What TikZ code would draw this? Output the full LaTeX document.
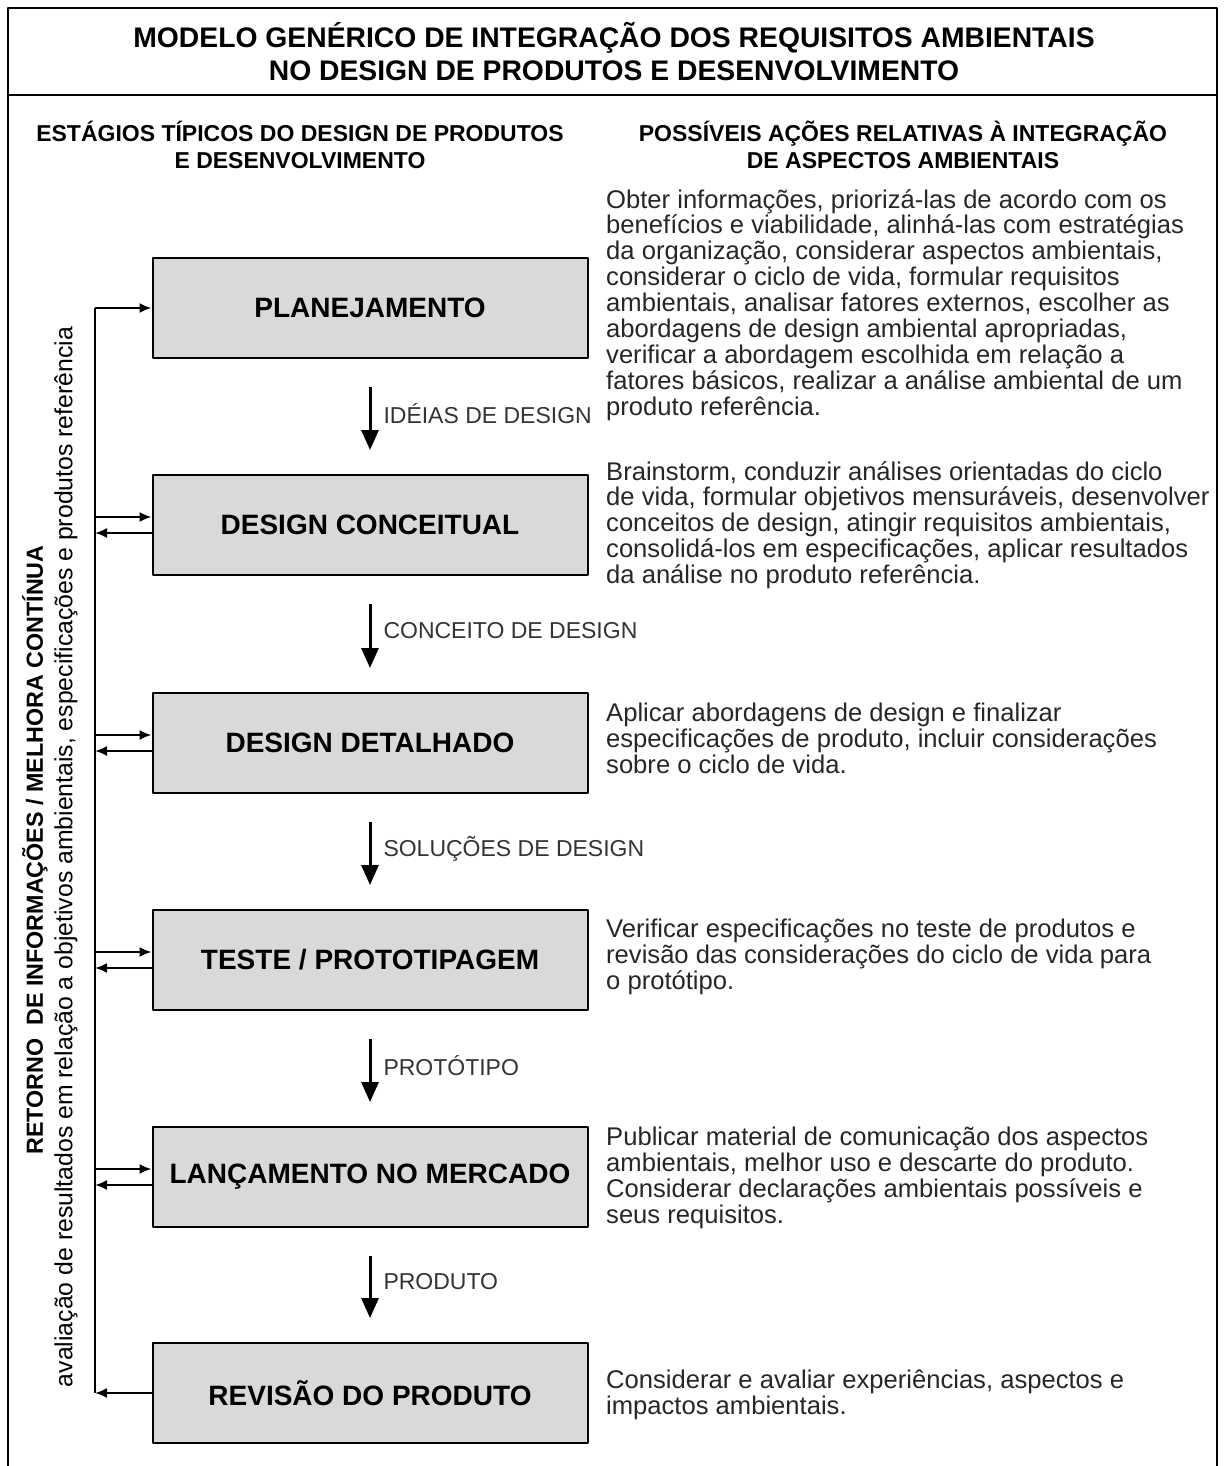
\documentclass[tikz,border=0pt]{standalone}
\usepackage{fontspec}
\setmainfont{Liberation Sans}
\usetikzlibrary{arrows.meta}

\begin{document}
\begin{tikzpicture}[x=1pt,y=-1pt,line join=round,
    stage/.style={draw,line width=2pt,fill=black!15,minimum width=435pt,minimum height=100pt,
      inner sep=0pt,font=\fontsize{28}{30}\selectfont\bfseries},
    desc/.style={anchor=north west,align=left,inner sep=0pt,text=black!85,
      font=\fontsize{25.6}{25.9}\selectfont},
    flow/.style={line width=3pt,-{Triangle[length=20pt,width=17pt]}},
    flowlabel/.style={right,inner sep=0pt,xshift=12pt,text=black!80,font=\fontsize{23}{24}\selectfont},
    back/.style={line width=2pt,-{Latex[length=12pt,width=10pt]}},
    head/.style={align=center,font=\bfseries\fontsize{23}{27}\selectfont}]
  \useasboundingbox (0,0) rectangle (1223,1466);
  % frame and title
  \draw[line width=2.5pt] (8,1470) |- (1217,8) -- (1217,1470);
  \draw[line width=2.5pt] (8,95) -- (1217,95);
  \node[align=center,font=\bfseries\fontsize{28.3}{33}\selectfont] (title) at (614,52)
    {MODELO GENÉRICO DE INTEGRAÇÃO DOS REQUISITOS AMBIENTAIS\\NO DESIGN DE PRODUTOS E DESENVOLVIMENTO};
  \node[head] (lhead) at (300,145) {ESTÁGIOS TÍPICOS DO DESIGN DE PRODUTOS\\E DESENVOLVIMENTO};
  \node[head] (rhead) at (903,145) {POSSÍVEIS AÇÕES RELATIVAS À INTEGRAÇÃO\\DE ASPECTOS AMBIENTAIS};

  % stages
  \foreach \n/\y/\t in {plan/308/PLANEJAMENTO, conc/525/DESIGN CONCEITUAL,
      deta/743/DESIGN DETALHADO, test/960/{TESTE / PROTOTIPAGEM},
      lanc/1177/LANÇAMENTO NO MERCADO, revi/1393/REVISÃO DO PRODUTO}
    \node[stage] (\n) at (370,\y) {\t};

  \foreach \a/\b/\t in {plan/conc/IDÉIAS DE DESIGN, conc/deta/CONCEITO DE DESIGN,
      deta/test/SOLUÇÕES DE DESIGN, test/lanc/PROTÓTIPO, lanc/revi/PRODUTO}
    \draw[flow] ([yshift=-28pt]\a.south) -- ([yshift=24pt]\b.north) node[flowlabel,pos=0.42] {\t};

  % feedback loop
  \coordinate (ftop) at (95,308);
  \coordinate (fbot) at (95,1393);
  \draw[line width=2pt] (fbot) -- (ftop);
  \draw[back] (ftop) -- (plan.west);
  \foreach \n in {conc,deta,test,lanc}{
    \draw[back] ([yshift=8pt]\n.west -| ftop) -- ([yshift=8pt]\n.west);
    \draw[back] ([yshift=-8pt]\n.west) -- ([yshift=-8pt]\n.west -| ftop);
  }
  \draw[back] (revi.west) -- (fbot);
  \node[rotate=90,font=\fontsize{23.3}{25}\selectfont\bfseries] (ret) at (35,850)
    {RETORNO\ \ DE INFORMAÇÕES / MELHORA CONTÍNUA};
  \node[rotate=90,font=\fontsize{24.8}{25}\selectfont] (aval) at (66,857)
    {avaliação de resultados em relação a objetivos ambientais, especificações e produtos referência};

  % actions
  \node[desc] (dplan) at (606,189) {Obter informações, priorizá-las de acordo com os\\
    benefícios e viabilidade, alinhá-las com estratégias\\
    da organização, considerar aspectos ambientais,\\
    considerar o ciclo de vida, formular requisitos\\
    ambientais, analisar fatores externos, escolher as\\
    abordagens de design ambiental apropriadas,\\
    verificar a abordagem escolhida em relação a\\
    fatores básicos, realizar a análise ambiental de um\\
    produto referência.};
  \node[desc] (dconc) at (606,461) {Brainstorm, conduzir análises orientadas do ciclo\\
    de vida, formular objetivos mensuráveis, desenvolver\\
    conceitos de design, atingir requisitos ambientais,\\
    consolidá-los em especificações, aplicar resultados\\
    da análise no produto referência.};
  \node[desc] (ddeta) at (606,703) {Aplicar abordagens de design e finalizar\\
    especificações de produto, incluir considerações\\
    sobre o ciclo de vida.};
  \node[desc] (dtest) at (606,919) {Verificar especificações no teste de produtos e\\
    revisão das considerações do ciclo de vida para\\
    o protótipo.};
  \node[desc] (dlanc) at (606,1127) {Publicar material de comunicação dos aspectos\\
    ambientais, melhor uso e descarte do produto.\\
    Considerar declarações ambientais possíveis e\\
    seus requisitos.};
  \node[desc] (drevi) at (606,1370) {Considerar e avaliar experiências, aspectos e\\
    impactos ambientais.};
\end{tikzpicture}
\end{document}
